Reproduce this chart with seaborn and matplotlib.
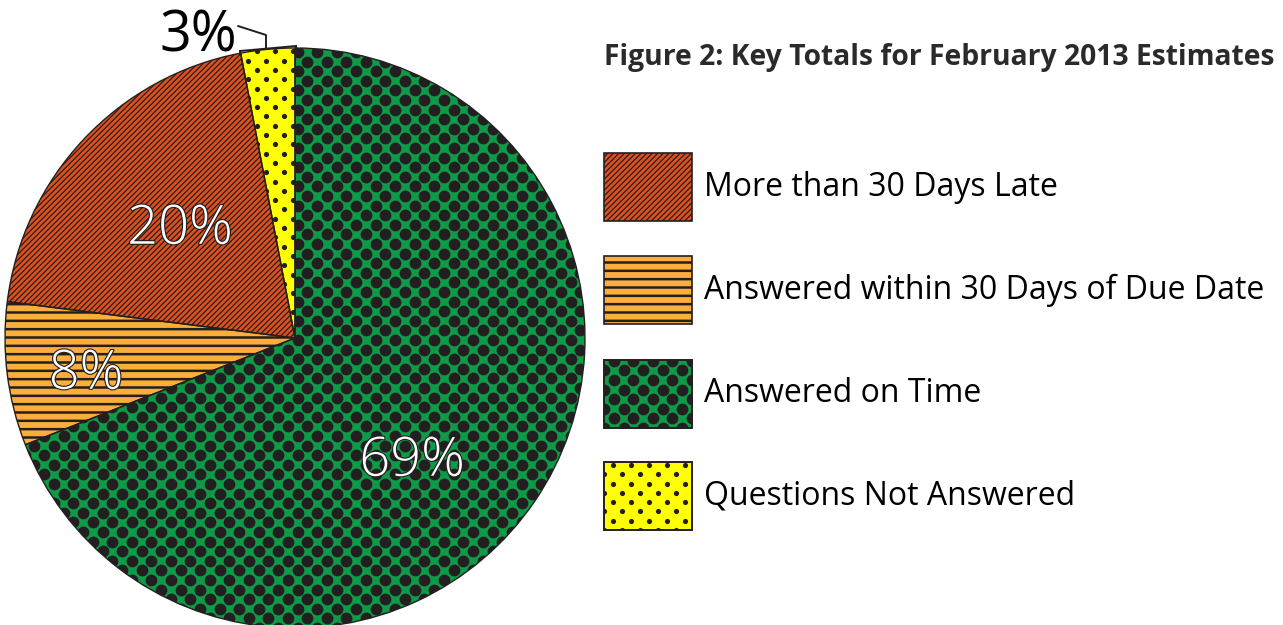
import seaborn as sns
import numpy as np
import matplotlib.pyplot as plt
from matplotlib.patches import Rectangle
import matplotlib.patheffects as pe

# data (clockwise from 12 o'clock)
labels = ['Answered on Time', 'Answered within 30 Days of Due Date',
          'More than 30 Days Late', 'Questions Not Answered']
values = [69, 8, 20, 3]
pct_labels = ['69%', '8%', '20%', '3%']
colors = ['#0e9a48', '#fbae3c', '#e0501e', '#ffff00']
legend_order = [2, 1, 0, 3]
title = 'Figure 2: Key Totals for February 2013 Estimates'

sns.set_style('white')
plt.rcParams['font.family'] = ['Open Sans', 'DejaVu Sans']
plt.rcParams['hatch.linewidth'] = 1.3

ink = '#231f20'
W, H = 1283, 625
fig = plt.figure(figsize=(12.83, 6.25), dpi=100)
ax = fig.add_axes([0, 0, 1, 1])

cx, cy, R = 295, H - 338, 290
wedges, _ = ax.pie(values, colors=colors, startangle=90, counterclock=False,
                   center=(cx, cy), radius=R,
                   wedgeprops=dict(linewidth=0, edgecolor=ink, zorder=1))

# pattern per slice
hatches = [None, '--', '//////', None]
hatch_lw = [None, 1.8, 0.9, None]
dots = [(19.5, 9.6, 72), None, None, (18, 9.3, 14)]


def set_hatch(p, h, lw):
    p.set_hatch(h)
    if hasattr(p, 'set_hatch_linewidth'):
        p.set_hatch_linewidth(lw)


def dot_fill(patch, x0, x1, y0, y1, spec):
    dx, dy, s = spec
    xs, ys = [], []
    for i, y in enumerate(np.arange(y0, y1 + dy, dy)):
        off = dx / 2 if i % 2 else 0
        row = np.arange(x0 - dx + off, x1 + dx, dx)
        xs.extend(row)
        ys.extend([y] * len(row))
    sc = ax.scatter(xs, ys, s=s, color=ink, linewidths=0, zorder=2)
    sc.set_clip_path(patch)


for w, h, lw, d in zip(wedges, hatches, hatch_lw, dots):
    if h:
        set_hatch(w, h, lw)
    if d:
        dot_fill(w, cx - R, cx + R, cy - R, cy + R, d)

# outlines on top
ax.pie(values, startangle=90, counterclock=False, center=(cx, cy), radius=R,
       wedgeprops=dict(fill=False, edgecolor=ink, linewidth=1.0, zorder=3))

# percentage labels
label_pos = [(412, 462), (86, 375), (180, 230), (198, 37)]
for i, (txt, (x, y)) in enumerate(zip(pct_labels, label_pos)):
    if i == 3:
        ax.text(x, H - y, txt, ha='center', va='center', fontsize=40,
                color='black', fontweight='medium', zorder=5)
    else:
        t = ax.text(x, H - y, txt, ha='center', va='center', fontsize=39,
                    color='white', fontweight='light', zorder=5)
        t.set_path_effects([pe.withStroke(linewidth=1.6, foreground=ink)])

# bracket for small slice
bx = [240, 240, 296, 296]
by = [54, 51, 46, 49]
ax.plot(bx, [H - v for v in by], color=ink, lw=1.4, zorder=5, solid_joinstyle='miter')
ax.plot([238, 266, 266], [H - 26, H - 35, H - 48], color=ink, lw=1.4, zorder=5)

# title
ax.text(604, H - 58, title, ha='left', va='center', fontsize=20.3,
        fontweight='bold', color='#2a2a2a')

# legend
box_tops = [153, 256, 360, 462]
for top, k in zip(box_tops, legend_order):
    rect = Rectangle((604, H - top - 68), 88, 68, facecolor=colors[k],
                     edgecolor=ink, linewidth=1.2, zorder=1)
    if hatches[k]:
        set_hatch(rect, hatches[k], hatch_lw[k])
    ax.add_patch(rect)
    if dots[k]:
        dot_fill(rect, 604, 692, H - top - 68, H - top, dots[k])
        ax.add_patch(Rectangle((604, H - top - 68), 88, 68, fill=False,
                               edgecolor=ink, linewidth=1.2, zorder=3))
    ax.text(704, H - top - 34, labels[k], ha='left', va='center',
            fontsize=23, color='black')

ax.set_xlim(0, W)
ax.set_ylim(0, H)
ax.set_aspect('auto')
ax.axis('off')
fig.savefig('out.png', dpi=100)
